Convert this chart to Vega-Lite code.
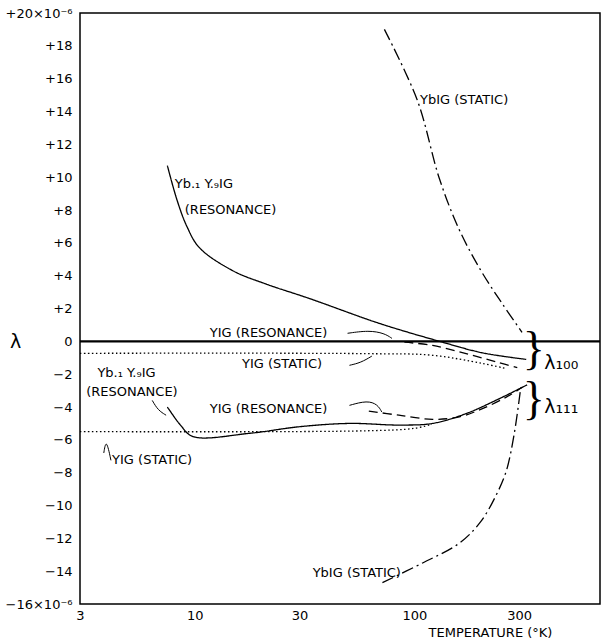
{
  "$schema": "https://vega.github.io/schema/vega-lite/v6.json",
  "width": 520,
  "height": 591,
  "autosize": {"type": "none"},
  "padding": {"left": 80, "top": 13, "right": 2, "bottom": 35},
  "background": "white",
  "config": {
    "view": {"stroke": "black", "strokeWidth": 1.5},
    "font": "DejaVu Sans",
    "axis": {"grid": false, "domain": false, "ticks": false, "labelColor": "black", "titleColor": "black"}
  },
  "datasets": {
    "curves": [
      {"series": "YbIG static high", "style": "dashdot", "T": 73, "lam": 19.0},
      {"series": "YbIG static high", "style": "dashdot", "T": 103, "lam": 14.7},
      {"series": "YbIG static high", "style": "dashdot", "T": 130, "lam": 9.9},
      {"series": "YbIG static high", "style": "dashdot", "T": 160, "lam": 6.8},
      {"series": "YbIG static high", "style": "dashdot", "T": 201, "lam": 4.3},
      {"series": "YbIG static high", "style": "dashdot", "T": 251, "lam": 2.3},
      {"series": "YbIG static high", "style": "dashdot", "T": 309, "lam": 0.55},
      {"series": "YbIG static low", "style": "dashdot", "T": 71.5, "lam": -14.7},
      {"series": "YbIG static low", "style": "dashdot", "T": 109, "lam": -13.5},
      {"series": "YbIG static low", "style": "dashdot", "T": 160, "lam": -12.3},
      {"series": "YbIG static low", "style": "dashdot", "T": 200, "lam": -11.0},
      {"series": "YbIG static low", "style": "dashdot", "T": 235, "lam": -9.4},
      {"series": "YbIG static low", "style": "dashdot", "T": 262, "lam": -7.9},
      {"series": "YbIG static low", "style": "dashdot", "T": 285, "lam": -5.6},
      {"series": "YbIG static low", "style": "dashdot", "T": 305, "lam": -2.8},
      {"series": "Yb.1Y.9IG resonance 100", "style": "solid", "T": 7.5, "lam": 10.7},
      {"series": "Yb.1Y.9IG resonance 100", "style": "solid", "T": 8.3, "lam": 8.6},
      {"series": "Yb.1Y.9IG resonance 100", "style": "solid", "T": 9.2, "lam": 7.0},
      {"series": "Yb.1Y.9IG resonance 100", "style": "solid", "T": 10.5, "lam": 5.7},
      {"series": "Yb.1Y.9IG resonance 100", "style": "solid", "T": 14.9, "lam": 4.3},
      {"series": "Yb.1Y.9IG resonance 100", "style": "solid", "T": 21, "lam": 3.5},
      {"series": "Yb.1Y.9IG resonance 100", "style": "solid", "T": 33.4, "lam": 2.6},
      {"series": "Yb.1Y.9IG resonance 100", "style": "solid", "T": 69, "lam": 1.1},
      {"series": "Yb.1Y.9IG resonance 100", "style": "solid", "T": 130, "lam": 0.0},
      {"series": "Yb.1Y.9IG resonance 100", "style": "solid", "T": 204, "lam": -0.7},
      {"series": "Yb.1Y.9IG resonance 100", "style": "solid", "T": 323, "lam": -1.1},
      {"series": "YIG resonance 100", "style": "dashed", "T": 90, "lam": -0.05},
      {"series": "YIG resonance 100", "style": "dashed", "T": 121, "lam": -0.25},
      {"series": "YIG resonance 100", "style": "dashed", "T": 172, "lam": -0.75},
      {"series": "YIG resonance 100", "style": "dashed", "T": 243, "lam": -1.3},
      {"series": "YIG resonance 100", "style": "dashed", "T": 294, "lam": -1.6},
      {"series": "YIG static 100", "style": "dotted", "T": 3, "lam": -0.73},
      {"series": "YIG static 100", "style": "dotted", "T": 60, "lam": -0.75},
      {"series": "YIG static 100", "style": "dotted", "T": 121, "lam": -0.85},
      {"series": "YIG static 100", "style": "dotted", "T": 204, "lam": -1.35},
      {"series": "YIG static 100", "style": "dotted", "T": 260, "lam": -1.65},
      {"series": "YIG static 111", "style": "dotted", "T": 3, "lam": -5.5},
      {"series": "YIG static 111", "style": "dotted", "T": 60, "lam": -5.45},
      {"series": "YIG static 111", "style": "dotted", "T": 100, "lam": -5.3},
      {"series": "YIG static 111", "style": "dotted", "T": 120, "lam": -5.05},
      {"series": "Yb.1Y.9IG resonance 111", "style": "solid", "T": 7.5, "lam": -4.0},
      {"series": "Yb.1Y.9IG resonance 111", "style": "solid", "T": 8.6, "lam": -5.1},
      {"series": "Yb.1Y.9IG resonance 111", "style": "solid", "T": 9.8, "lam": -5.8},
      {"series": "Yb.1Y.9IG resonance 111", "style": "solid", "T": 17.8, "lam": -5.6},
      {"series": "Yb.1Y.9IG resonance 111", "style": "solid", "T": 30, "lam": -5.2},
      {"series": "Yb.1Y.9IG resonance 111", "style": "solid", "T": 50.6, "lam": -5.0},
      {"series": "Yb.1Y.9IG resonance 111", "style": "solid", "T": 85, "lam": -5.1},
      {"series": "Yb.1Y.9IG resonance 111", "style": "solid", "T": 121, "lam": -5.0},
      {"series": "Yb.1Y.9IG resonance 111", "style": "solid", "T": 172, "lam": -4.4},
      {"series": "Yb.1Y.9IG resonance 111", "style": "solid", "T": 243, "lam": -3.5},
      {"series": "Yb.1Y.9IG resonance 111", "style": "solid", "T": 326, "lam": -2.65},
      {"series": "YIG resonance 111", "style": "dashed", "T": 62, "lam": -4.25},
      {"series": "YIG resonance 111", "style": "dashed", "T": 85, "lam": -4.5},
      {"series": "YIG resonance 111", "style": "dashed", "T": 121, "lam": -4.75},
      {"series": "YIG resonance 111", "style": "dashed", "T": 160, "lam": -4.6},
      {"series": "YIG resonance 111", "style": "dashed", "T": 204, "lam": -4.1},
      {"series": "YIG resonance 111", "style": "dashed", "T": 262, "lam": -3.4},
      {"series": "YIG resonance 111", "style": "dashed", "T": 310, "lam": -2.8}
    ],
    "zero": [
      {"T": 3, "lam": 0},
      {"T": 700, "lam": 0}
    ],
    "xticks": [
      {"T": 4, "kind": "minor"}, {"T": 5, "kind": "minor"}, {"T": 6, "kind": "minor"},
      {"T": 7, "kind": "minor"}, {"T": 8, "kind": "minor"}, {"T": 9, "kind": "minor"},
      {"T": 10, "kind": "major"}, {"T": 20, "kind": "minor"}, {"T": 30, "kind": "major"},
      {"T": 40, "kind": "minor"}, {"T": 50, "kind": "minor"}, {"T": 60, "kind": "minor"},
      {"T": 70, "kind": "minor"}, {"T": 80, "kind": "minor"}, {"T": 90, "kind": "minor"},
      {"T": 100, "kind": "major"}, {"T": 200, "kind": "minor"}, {"T": 300, "kind": "major"},
      {"T": 400, "kind": "minor"}, {"T": 500, "kind": "minor"}, {"T": 600, "kind": "minor"}
    ],
    "yticks": [
      {"lam": -14}, {"lam": -12}, {"lam": -10}, {"lam": -8}, {"lam": -6}, {"lam": -4},
      {"lam": -2}, {"lam": 0}, {"lam": 2}, {"lam": 4}, {"lam": 6}, {"lam": 8},
      {"lam": 10}, {"lam": 12}, {"lam": 14}, {"lam": 16}, {"lam": 18}
    ],
    "arrows": [
      {"arrow": "a1", "T": 49.6, "lam": 0.49},
      {"arrow": "a1", "T": 62, "lam": 0.67},
      {"arrow": "a1", "T": 73, "lam": 0.49},
      {"arrow": "a1", "T": 79, "lam": 0.18},
      {"arrow": "a2", "T": 50.6, "lam": -1.46},
      {"arrow": "a2", "T": 57, "lam": -1.3},
      {"arrow": "a2", "T": 64, "lam": -0.9},
      {"arrow": "a3", "T": 50.6, "lam": -3.9},
      {"arrow": "a3", "T": 61, "lam": -3.6},
      {"arrow": "a3", "T": 68, "lam": -3.85},
      {"arrow": "a3", "T": 71, "lam": -4.3},
      {"arrow": "a4", "T": 6.4, "lam": -3.6},
      {"arrow": "a4", "T": 6.8, "lam": -4.2},
      {"arrow": "a4", "T": 7.4, "lam": -4.5},
      {"arrow": "a5", "T": 3.95, "lam": -5.9},
      {"arrow": "a5", "T": 3.85, "lam": -6.8},
      {"arrow": "a5", "T": 4.15, "lam": -7.25}
    ],
    "labels": [
      {"T": 8.1, "lam": 9.6, "text": "Yb.₁ Y.₉IG"},
      {"T": 9.0, "lam": 8.0, "text": "(RESONANCE)"},
      {"T": 106, "lam": 14.7, "text": "YbIG (STATIC)"},
      {"T": 34.4, "lam": -14.1, "text": "YbIG (STATIC)"},
      {"T": 11.7, "lam": 0.5, "text": "YIG (RESONANCE)"},
      {"T": 16.4, "lam": -1.4, "text": "YIG (STATIC)"},
      {"T": 3.6, "lam": -1.9, "text": "Yb.₁ Y.₉IG"},
      {"T": 3.2, "lam": -3.1, "text": "(RESONANCE)"},
      {"T": 11.7, "lam": -4.1, "text": "YIG (RESONANCE)"},
      {"T": 4.2, "lam": -7.25, "text": "YIG (STATIC)"}
    ],
    "lambdas": [
      {"T": 390, "lam": -1.3, "text": "λ₁₀₀"},
      {"T": 390, "lam": -4.0, "text": "λ₁₁₁"}
    ],
    "braces": [
      {"T": 350, "lam": -0.55, "text": "}"},
      {"T": 350, "lam": -3.6, "text": "}"}
    ]
  },
  "encoding": {
    "x": {
      "field": "T", "type": "quantitative",
      "scale": {"type": "log", "domain": [3, 700], "nice": false},
      "axis": {
        "orient": "bottom",
        "values": [3, 10, 30, 100, 300],
        "labelExpr": "'' + datum.value",
        "labelPadding": 5,
        "labelFontSize": 13,
        "labelFlush": false,
        "titleFontSize": 13,
        "titleFontWeight": "normal",
        "titleX": 410,
        "titleY": 28,
        "titleAlign": "center",
        "titleBaseline": "middle"
      },
      "title": "TEMPERATURE (°K)"
    },
    "y": {
      "field": "lam", "type": "quantitative",
      "scale": {"domain": [-16, 20], "nice": false, "zero": false},
      "axis": {
        "orient": "left",
        "values": [-16, -14, -12, -10, -8, -6, -4, -2, 0, 2, 4, 6, 8, 10, 12, 14, 16, 18, 20],
        "labelExpr": "datum.value == 20 ? '+20×10⁻⁶' : datum.value == -16 ? '−16×10⁻⁶' : datum.value > 0 ? '+' + datum.value : datum.value == 0 ? '0' : '−' + (-datum.value)",
        "labelPadding": 8,
        "labelFontSize": 13,
        "labelFlush": false,
        "titleAngle": 0,
        "titleFontSize": 19,
        "titleFontWeight": "normal",
        "titleX": -65,
        "titleY": 328,
        "titleAlign": "center",
        "titleBaseline": "middle"
      },
      "title": "λ"
    }
  },
  "layer": [
    {
      "data": {"name": "curves"},
      "mark": {"type": "line", "interpolate": "catmull-rom", "color": "black", "strokeWidth": 1.3},
      "encoding": {
        "detail": {"field": "series"},
        "strokeDash": {
          "field": "style", "type": "nominal",
          "scale": {"domain": ["solid", "dashed", "dotted", "dashdot"], "range": [[1, 0], [9, 5], [1.5, 2.5], [12, 4, 2, 4]]},
          "legend": null
        }
      }
    },
    {
      "data": {"name": "zero"},
      "mark": {"type": "line", "color": "black", "strokeWidth": 2.2},
      "encoding": {}
    },
    {
      "data": {"name": "arrows"},
      "mark": {"type": "line", "interpolate": "basis", "color": "black", "strokeWidth": 1},
      "encoding": {"detail": {"field": "arrow"}}
    },
    {
      "data": {"name": "labels"},
      "mark": {"type": "text", "align": "left", "baseline": "middle", "fontSize": 13, "font": "DejaVu Sans", "color": "black"},
      "encoding": {"text": {"field": "text"}}
    },
    {
      "data": {"name": "lambdas"},
      "mark": {"type": "text", "align": "left", "baseline": "middle", "fontSize": 19, "font": "DejaVu Sans", "color": "black"},
      "encoding": {"text": {"field": "text"}}
    },
    {
      "data": {"name": "braces"},
      "mark": {"type": "text", "align": "center", "baseline": "middle", "fontSize": 46, "font": "Liberation Serif", "color": "black"},
      "encoding": {"text": {"field": "text"}}
    },
    {
      "data": {"name": "xticks"},
      "transform": [{"filter": "datum.kind == 'minor'"}],
      "mark": {"type": "rule", "color": "black", "strokeWidth": 1.2},
      "encoding": {
        "x": {"field": "T", "type": "quantitative", "scale": {"type": "log", "domain": [3, 700], "nice": false}},
        "y": {"datum": -16, "type": "quantitative", "scale": {"domain": [-16, 20], "nice": false, "zero": false}},
        "y2": {"datum": -15.7}
      }
    },
    {
      "data": {"name": "xticks"},
      "transform": [{"filter": "datum.kind == 'minor'"}],
      "mark": {"type": "rule", "color": "black", "strokeWidth": 1.2},
      "encoding": {
        "x": {"field": "T", "type": "quantitative", "scale": {"type": "log", "domain": [3, 700], "nice": false}},
        "y": {"datum": 20, "type": "quantitative", "scale": {"domain": [-16, 20], "nice": false, "zero": false}},
        "y2": {"datum": 19.7}
      }
    },
    {
      "data": {"name": "xticks"},
      "transform": [{"filter": "datum.kind == 'major'"}],
      "mark": {"type": "rule", "color": "black", "strokeWidth": 1.3},
      "encoding": {
        "x": {"field": "T", "type": "quantitative", "scale": {"type": "log", "domain": [3, 700], "nice": false}},
        "y": {"datum": -16, "type": "quantitative", "scale": {"domain": [-16, 20], "nice": false, "zero": false}},
        "y2": {"datum": -15.5}
      }
    },
    {
      "data": {"name": "xticks"},
      "transform": [{"filter": "datum.kind == 'major'"}],
      "mark": {"type": "rule", "color": "black", "strokeWidth": 1.3},
      "encoding": {
        "x": {"field": "T", "type": "quantitative", "scale": {"type": "log", "domain": [3, 700], "nice": false}},
        "y": {"datum": 20, "type": "quantitative", "scale": {"domain": [-16, 20], "nice": false, "zero": false}},
        "y2": {"datum": 19.55}
      }
    },
    {
      "data": {"name": "yticks"},
      "mark": {"type": "rule", "color": "black", "strokeWidth": 1.2},
      "encoding": {
        "y": {"field": "lam", "type": "quantitative", "scale": {"domain": [-16, 20], "nice": false, "zero": false}},
        "x": {"datum": 3, "type": "quantitative", "scale": {"type": "log", "domain": [3, 700], "nice": false}},
        "x2": {"datum": 3.2}
      }
    },
    {
      "data": {"name": "yticks"},
      "mark": {"type": "rule", "color": "black", "strokeWidth": 1.2},
      "encoding": {
        "y": {"field": "lam", "type": "quantitative", "scale": {"domain": [-16, 20], "nice": false, "zero": false}},
        "x": {"datum": 700, "type": "quantitative", "scale": {"type": "log", "domain": [3, 700], "nice": false}},
        "x2": {"datum": 657}
      }
    }
  ]
}
